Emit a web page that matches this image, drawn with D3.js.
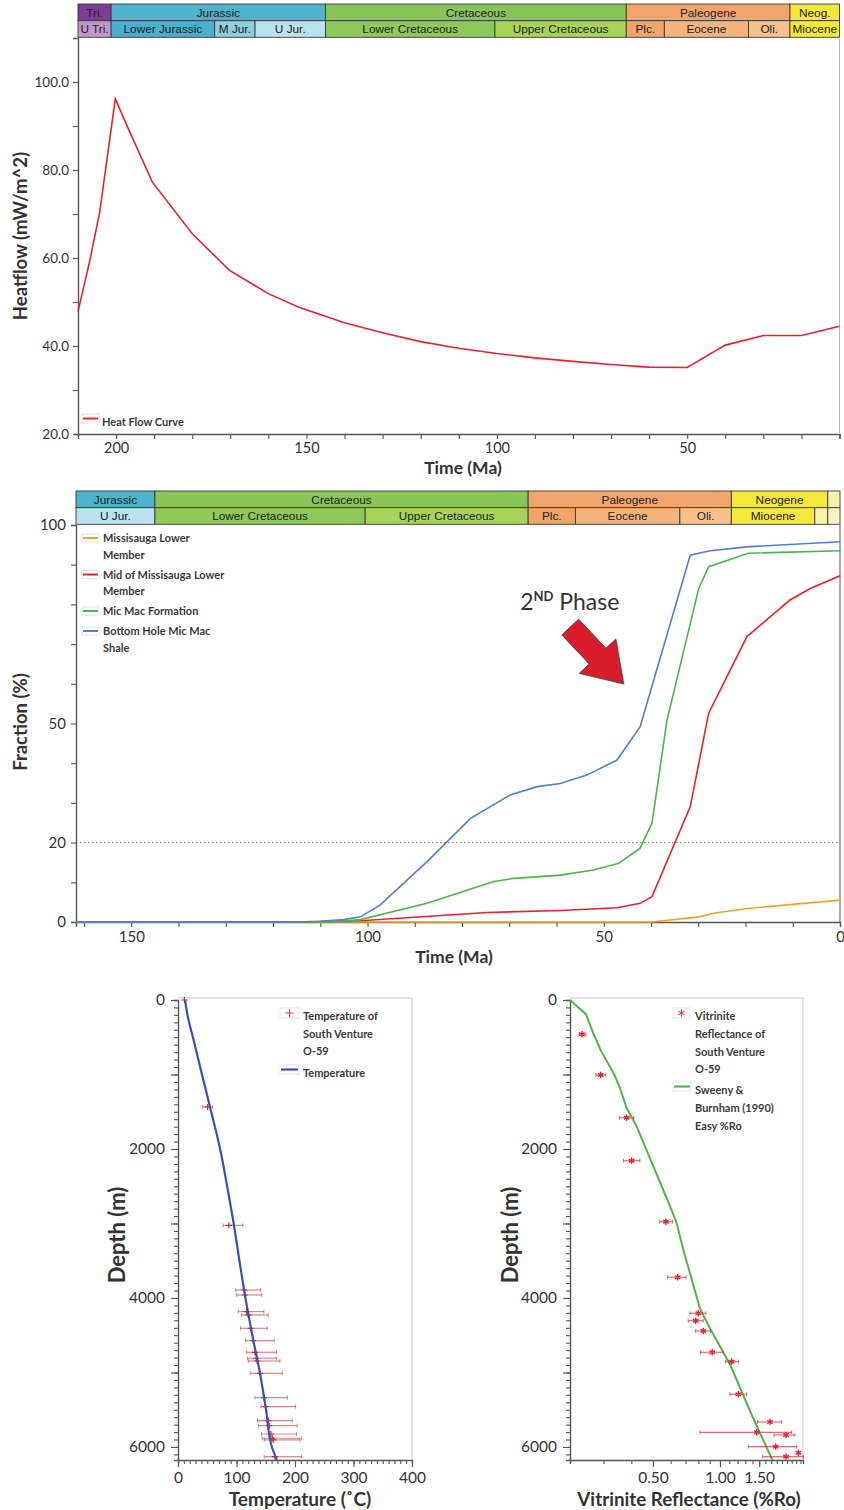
<!DOCTYPE html>
<html>
<head>
<meta charset="utf-8">
<script src="https://cdn.jsdelivr.net/npm/d3@7"></script>
<style>
  body { margin: 0; background: #fff; }
  svg { display: block; font-family: Lato, "Open Sans", sans-serif; }
  .tick text { fill: #333; }
  .bar-label { font-family: "Liberation Sans", Arial, sans-serif; font-size: 11.8px; fill: #222; }
  .legend { font-size: 11px; font-weight: 700; fill: #3a3a3a; }
  .title { font-weight: 700; fill: #333; }
</style>
</head>
<body>
<svg id="chart" width="844" height="1510"></svg>
<script>
// ---------------- Geologic time scale ----------------
const topRow1Names  = ["Tri.", "Jurassic", "Cretaceous", "Paleogene", "Neog."];
const topRow1Bounds = [237, 201.3, 145, 66, 23, 2.58];
const topRow2Names  = ["U Tri.", "Lower Jurassic", "M Jur.", "U Jur.", "Lower Cretaceous", "Upper Cretaceous", "Plc.", "Eocene", "Oli.", "Miocene"];
const topRow2Bounds = [237, 201.3, 174.1, 163.5, 145, 100.5, 66, 56, 33.9, 23, 5.33];

const midRow1Names  = ["Jurassic", "Cretaceous", "Paleogene", "Neogene", ""];
const midRow1Bounds = [201.3, 145, 66, 23, 2.58, 0];
const midRow2Names  = ["U Jur.", "Lower Cretaceous", "Upper Cretaceous", "Plc.", "Eocene", "Oli.", "Miocene", "", ""];
const midRow2Bounds = [163.5, 145, 100.5, 66, 56, 33.9, 23, 5.33, 2.58, 0];

// ---------------- Heat flow history ----------------
const heatAge  = [210, 207, 204.3, 200.2, 197, 190.5, 180, 170.2, 160, 152, 140, 130, 120, 110, 100, 90, 80, 70, 60, 50, 40, 30, 20, 10];
const heatFlow = [47.8, 59, 70.4, 96.2, 89.8, 77.3, 65.5, 57.2, 51.9, 48.8, 45.3, 43.0, 41.0, 39.5, 38.3, 37.3, 36.5, 35.8, 35.2, 35.1, 40.2, 42.4, 42.4, 44.5];

// ---------------- Transformation ratio (%) ----------------
const seriesNames = ["Missisauga Lower Member", "Mid of Missisauga Lower Member", "Mic Mac Formation", "Bottom Hole Mic Mac Shale"];
const orangeAge = [161.7, 39.8, 29.9, 26.7, 19.7, 0];
const orangeVal = [0, 0, 1.3, 2.2, 3.4, 5.5];
const redAge    = [161.7, 115, 101.5, 74.7, 59.2, 47.2, 42.3, 39.8, 31.7, 27.8, 19.7, 10.6, 6.3, 0];
const redVal    = [0, 0, 0.3, 2.4, 2.9, 3.6, 4.7, 6.4, 29, 52.6, 71.9, 81.1, 84, 87.2];
const greenAge  = [161.7, 108, 101.5, 87.4, 73.3, 69, 59.2, 52.2, 46.8, 42.3, 39.8, 36.6, 29.9, 27.8, 19.4, 0];
const greenVal  = [0, 0, 0.6, 4.7, 10.2, 11, 11.8, 13.1, 14.8, 18.6, 24.9, 50.9, 84, 89.5, 92.9, 93.5];
const blueAge   = [161.7, 115, 110, 105, 101.5, 97.3, 87.4, 78.2, 69.8, 64.1, 59.2, 53.6, 47.2, 42.3, 31.7, 27.5, 19.7, 0];
const blueVal   = [0, 0, 0.2, 0.6, 1.3, 4.3, 15.2, 26.1, 32, 34.1, 34.9, 37, 40.8, 49.2, 92.4, 93.5, 94.5, 95.8];
const thresholdLevel = 20;

// ---------------- Well South Venture O-59: temperature ----------------
const tempModelDepth = [0, 250, 500, 1000, 1540, 2000, 2500, 2990, 3500, 3985, 4500, 4980, 5500, 6000, 6175];
const tempModel      = [12, 17.5, 25.5, 41, 58, 72, 84, 95, 105, 115, 127, 139.5, 150.5, 160.5, 169];
const tempObsDepth = [0, 1436, 3025, 3893, 3960, 4183, 4228, 4407, 4573, 4729, 4809, 4846, 5012, 5338, 5459, 5647, 5714, 5826, 5883, 5906, 6130];
const tempObs      = [11, 50.7, 87, 113.3, 114.4, 117.3, 120.1, 124.1, 128.7, 131.5, 133.8, 135.5, 140, 147.4, 149.7, 154.3, 156, 158.8, 161.1, 162.8, 165.7];
const tempObsLo    = [11, 42.2, 76.9, 98.5, 100.2, 103.1, 108.7, 107, 115.6, 117.3, 119, 120.1, 123.5, 131.5, 141.8, 136, 137.2, 142.9, 144, 147.4, 147.4];
const tempObsHi    = [11, 59.3, 111, 141.2, 142.9, 146.9, 154.3, 152.6, 164.5, 168.5, 168.5, 174.2, 178.2, 187.3, 201, 195.3, 203.8, 202.7, 211.2, 208.4, 211.2];

// ---------------- Well South Venture O-59: vitrinite reflectance ----------------
const roModelDepth = [0, 190, 450, 680, 1000, 1180, 1450, 1680, 2220, 2760, 2990, 3350, 4140, 4410, 4890, 5615, 6175];
const roModel      = [0.212, 0.25, 0.27, 0.292, 0.335, 0.355, 0.381, 0.42, 0.5, 0.595, 0.638, 0.684, 0.813, 0.902, 1.109, 1.41, 1.72];
const roObsDepth = [460, 1007, 1580, 2157, 2976, 3722, 4205, 4305, 4443, 4729, 4855, 5292, 5664, 5803, 5839, 5996, 6077, 6130];
const roObs      = [0.24, 0.291, 0.381, 0.401, 0.572, 0.645, 0.799, 0.778, 0.841, 0.923, 1.129, 1.209, 1.678, 1.462, 1.98, 1.78, 2.25, 1.98];
const roObsLo    = [0.233, 0.277, 0.353, 0.368, 0.537, 0.582, 0.733, 0.72, 0.778, 0.819, 1.061, 1.109, 1.477, 0.813, 1.749, 1.34, 2.25, 1.556];
const roObsHi    = [0.25, 0.307, 0.41, 0.437, 0.613, 0.704, 0.865, 0.841, 0.908, 1.035, 1.209, 1.318, 1.893, 2.1, 2.17, 2.21, 2.25, 2.37];

// ---------------- Styles ----------------
const topRow1Colors = ["#7e3c97", "#4db3ca", "#89c457", "#f1a46c", "#f5e83a"];
const topRow2Colors = ["#c096ca", "#4aafcf", "#8ccfdb", "#b9e2ec", "#8cc85a", "#a7d35a", "#f1a46a", "#f5b47e", "#f6c18c", "#f5e838"];
const midRow1Colors = ["#4db3ca", "#89c457", "#f1a46c", "#f5e83a", "#f7f1b0"];
const midRow2Colors = ["#b9e2ec", "#8cc85a", "#a7d35a", "#f1a46a", "#f5b47e", "#f6c18c", "#f5e838", "#f7f2a6", "#f8f3c2"];
const seriesColors = ["#f6a128", "#e8222d", "#4cb648", "#4b80d2"];
const axisColor = "#555";

const svg = d3.select("#chart");
svg.append("rect").attr("width", 844).attr("height", 1510).attr("fill", "#fff");

function styleAxis(sel, fontSize) {
  sel.select(".domain").attr("stroke", axisColor).attr("stroke-width", 1.4);
  sel.selectAll(".tick line").attr("stroke", axisColor).attr("stroke-width", 1.1);
  sel.selectAll(".tick text").attr("font-size", fontSize).attr("font-family", "Lato, sans-serif");
}

function timeBar(x, names, bounds, colors, yTop, h, xmin, xmax) {
  const g = svg.append("g");
  names.forEach((n, i) => {
    let a = x(bounds[i]), b = x(bounds[i + 1]);
    a = Math.max(a, xmin); b = Math.min(b, xmax);
    if (b <= a) return;
    g.append("rect").attr("x", a).attr("y", yTop).attr("width", b - a).attr("height", h)
      .attr("fill", colors[i]).attr("stroke", "#3a3a3a").attr("stroke-width", 0.9);
    if (n) g.append("text").attr("class", "bar-label").attr("x", (a + b) / 2).attr("y", yTop + h / 2 + 4.2)
      .attr("text-anchor", "middle").text(n);
  });
}

// ======================= Panel 1: heat flow =======================
{
  const x = d3.scaleLinear().domain([210, 10]).range([78, 839.5]);
  const y = d3.scaleLinear().domain([20, 110]).range([434, 38]);

  timeBar(x, topRow1Names, topRow1Bounds, topRow1Colors, 4, 16.7, 78, 839.5);
  timeBar(x, topRow2Names, topRow2Bounds, topRow2Colors, 20.7, 16.6, 78, 839.5);

  const gx = svg.append("g").attr("transform", "translate(0,434)")
    .call(d3.axisBottom(x).tickValues(d3.range(210, 9, -10)).tickSize(5).tickPadding(4)
      .tickFormat(d => d % 50 === 0 ? d : ""));
  styleAxis(gx, 14.5);
  const gy = svg.append("g").attr("transform", "translate(78,0)")
    .call(d3.axisLeft(y).tickValues(d3.range(20, 111, 10)).tickSize(5).tickPadding(4)
      .tickFormat(d => d % 20 === 0 ? d3.format(".1f")(d) : ""));
  styleAxis(gy, 13.5);
  svg.append("line").attr("x1", 839.5).attr("x2", 839.5).attr("y1", 38).attr("y2", 434)
    .attr("stroke", "#bbb").attr("stroke-width", 1);

  svg.append("path").datum(heatAge.map((a, i) => [a, heatFlow[i]]))
    .attr("fill", "none").attr("stroke", "#e8222d").attr("stroke-width", 1.6)
    .attr("d", d3.line().x(d => x(d[0])).y(d => y(d[1])));

  svg.append("text").attr("class", "title").attr("font-size", 18.5)
    .attr("transform", "translate(27,236) rotate(-90)").attr("text-anchor", "middle").text("Heatflow (mW/m^2)");
  svg.append("text").attr("class", "title").attr("font-size", 17.5)
    .attr("x", 463).attr("y", 474).attr("text-anchor", "middle").text("Time (Ma)");

  // legend
  const lg = svg.append("g").attr("transform", "translate(82,414)");
  lg.append("rect").attr("width", 17).attr("height", 9).attr("fill", "#fff").attr("stroke", "#e4e4e4");
  lg.append("line").attr("x1", 1).attr("x2", 16).attr("y1", 4.5).attr("y2", 4.5).attr("stroke", "#e8222d").attr("stroke-width", 2);
  lg.append("text").attr("class", "legend").attr("font-size", 10.5).attr("x", 20).attr("y", 12).text("Heat Flow Curve");
}

// ======================= Panel 2: transformation ratio =======================
{
  const x = d3.scaleLinear().domain([161.7, 0]).range([76, 840]);
  const y = d3.scaleLinear().domain([0, 100]).range([922, 525]);

  timeBar(x, midRow1Names, midRow1Bounds, midRow1Colors, 491, 16.7, 76, 840);
  timeBar(x, midRow2Names, midRow2Bounds, midRow2Colors, 507.7, 16.6, 76, 840);

  // threshold line
  svg.append("line").attr("x1", x(161.7)).attr("x2", x(0)).attr("y1", y(thresholdLevel)).attr("y2", y(thresholdLevel))
    .attr("stroke", "#8a8a8a").attr("stroke-width", 1.3).attr("stroke-dasharray", "1.5,2.5");

  const gx = svg.append("g").attr("transform", "translate(0,922)")
    .call(d3.axisBottom(x).tickValues(d3.range(160, -1, -10)).tickSize(5).tickPadding(4)
      .tickFormat(d => d % 50 === 0 ? d : ""));
  styleAxis(gx, 15);
  const gy = svg.append("g").attr("transform", "translate(76,0)")
    .call(d3.axisLeft(y).tickValues(d3.range(0, 101, 10)).tickSize(5).tickPadding(5)
      .tickFormat(d => [0, 20, 50, 100].includes(d) ? d : ""));
  styleAxis(gy, 15);
  svg.append("line").attr("x1", 840).attr("x2", 840).attr("y1", 525).attr("y2", 922)
    .attr("stroke", axisColor).attr("stroke-width", 1);

  const line = d3.line().x(d => x(d[0])).y(d => y(d[1]));
  const series = [[orangeAge, orangeVal], [redAge, redVal], [greenAge, greenVal], [blueAge, blueVal]];
  series.forEach(([ages, vals], i) => {
    svg.append("path").datum(ages.map((a, j) => [a, vals[j]]))
      .attr("fill", "none").attr("stroke", seriesColors[i]).attr("stroke-width", 1.6).attr("d", line);
  });

  svg.append("text").attr("class", "title").attr("font-size", 18.5)
    .attr("transform", "translate(27,722) rotate(-90)").attr("text-anchor", "middle").text("Fraction (%)");
  svg.append("text").attr("class", "title").attr("font-size", 17.5)
    .attr("x", 454).attr("y", 963).attr("text-anchor", "middle").text("Time (Ma)");

  // legend
  const legendLines = [["Missisauga Lower", "Member"], ["Mid of Missisauga Lower", "Member"], ["Mic Mac Formation"], ["Bottom Hole Mic Mac", "Shale"]];
  const legendY = [538, 574.5, 611, 631];
  legendLines.forEach((ls, i) => {
    const g = svg.append("g").attr("transform", `translate(82,${legendY[i] - 4})`);
    g.append("rect").attr("width", 17).attr("height", 8).attr("fill", "#fff").attr("stroke", "#e6e6e6");
    g.append("line").attr("x1", 1).attr("x2", 16).attr("y1", 4).attr("y2", 4).attr("stroke", seriesColors[i]).attr("stroke-width", 2);
    ls.forEach((t, k) => g.append("text").attr("class", "legend").attr("x", 21).attr("y", 8 + k * 16.5).text(t));
  });

  // annotation: second phase of generation
  const tip = [x(45.8), y(60)], tail = [x(57.1), y(74.3)];
  const dx = tip[0] - tail[0], dy = tip[1] - tail[1], L = Math.hypot(dx, dy);
  const ux = dx / L, uy = dy / L, px = -uy, py = ux;
  const shaftW = 11.5, headW = 25, headL = 38;
  const bx = tip[0] - ux * headL, by = tip[1] - uy * headL;
  const pts = [
    [tail[0] + px * shaftW, tail[1] + py * shaftW],
    [bx + px * shaftW, by + py * shaftW],
    [bx + px * headW, by + py * headW],
    tip,
    [bx - px * headW, by - py * headW],
    [bx - px * shaftW, by - py * shaftW],
    [tail[0] - px * shaftW, tail[1] - py * shaftW]
  ];
  svg.append("polygon").attr("points", pts.map(p => [p[0] + 1.5, p[1] + 1.5].join(",")).join(" "))
    .attr("fill", "#9a9a9a").attr("opacity", 0.45);
  svg.append("polygon").attr("points", pts.map(p => p.join(",")).join(" "))
    .attr("fill", "#d81c2b").attr("stroke", "#5a4a4a").attr("stroke-width", 1);

  const t = svg.append("text").attr("x", x(67.7)).attr("y", y(78.6)).attr("font-size", 23).attr("fill", "#333")
    .attr("font-family", "Lato, sans-serif");
  t.append("tspan").text("2");
  t.append("tspan").attr("font-size", 13).attr("font-weight", 700).attr("dy", -9).text("ND");
  t.append("tspan").attr("dy", 9).text(" Phase");
}

// ======================= Depth panels (shared frame and axes) =======================
function depthPanel(x, xTickVals, xMinor, xFmt, yTop, yBottom) {
  const y = d3.scaleLinear().domain([0, 6175]).range([yTop, yBottom]);
  const [x0, x1] = x.range();
  svg.append("line").attr("x1", x0).attr("x2", x1).attr("y1", yTop - 2).attr("y2", yTop - 2).attr("stroke", "#c8c8c8");
  svg.append("line").attr("x1", x1).attr("x2", x1).attr("y1", yTop - 2).attr("y2", yBottom).attr("stroke", "#c8c8c8");

  const gyMinor = svg.append("g").attr("transform", `translate(${x0},0)`)
    .call(d3.axisLeft(y).tickValues(d3.range(0, 6175, 100)).tickSize(4).tickFormat(""));
  styleAxis(gyMinor, 14);
  const gy = svg.append("g").attr("transform", `translate(${x0},0)`)
    .call(d3.axisLeft(y).tickValues([0, 1000, 2000, 3000, 4000, 5000, 6000]).tickSize(7).tickPadding(6)
      .tickFormat(d => d % 2000 === 0 ? d : ""));
  styleAxis(gy, 15.5);
  gy.select(".domain").remove();

  const gxMinor = svg.append("g").attr("transform", `translate(0,${yBottom})`)
    .call(d3.axisBottom(x).tickValues(xMinor).tickSize(4).tickFormat(""));
  styleAxis(gxMinor, 14);
  const gx = svg.append("g").attr("transform", `translate(0,${yBottom})`)
    .call(d3.axisBottom(x).tickValues(xTickVals).tickSize(7).tickPadding(5).tickFormat(xFmt));
  styleAxis(gx, 15.5);
  gx.select(".domain").remove();
  return y;
}

// ======================= Panel 3: temperature vs depth =======================
{
  const x = d3.scaleLinear().domain([0, 400]).range([178, 412]);
  const y = depthPanel(x, [0, 100, 200, 300, 400], d3.range(0, 401, 10), d3.format("d"), 1000, 1460);

  const g = svg.append("g");
  tempObsDepth.forEach((dep, i) => {
    const yy = y(dep), a = x(tempObsLo[i]), b = x(tempObsHi[i]);
    if (b - a > 1) {
      g.append("line").attr("x1", a).attr("x2", b).attr("y1", yy).attr("y2", yy)
        .attr("stroke", "#c0392f").attr("stroke-opacity", 0.6).attr("stroke-width", 1.2);
      [a, b].forEach(xx => g.append("line").attr("x1", xx).attr("x2", xx).attr("y1", yy - 2).attr("y2", yy + 2)
        .attr("stroke", "#c0392f").attr("stroke-opacity", 0.6));
    }
    g.append("path").attr("transform", `translate(${x(tempObs[i])},${yy})`)
      .attr("d", "M-3,0H3M0,-3V3").attr("stroke", "#d9252f").attr("stroke-width", 1.2);
  });

  svg.append("path").datum(tempModelDepth.map((d, i) => [tempModel[i], d]))
    .attr("fill", "none").attr("stroke", "#3a4fb5").attr("stroke-width", 2.2)
    .attr("d", d3.line().curve(d3.curveMonotoneY).x(d => x(d[0])).y(d => y(d[1])));

  svg.append("text").attr("class", "title").attr("font-size", 22)
    .attr("transform", "translate(125,1235) rotate(-90)").attr("text-anchor", "middle").text("Depth (m)");
  svg.append("text").attr("class", "title").attr("font-size", 19)
    .attr("x", 300).attr("y", 1506).attr("text-anchor", "middle").text("Temperature (˚C)");

  const lg = svg.append("g").attr("transform", "translate(280,1008)");
  lg.append("rect").attr("width", 19).attr("height", 10).attr("fill", "#fff").attr("stroke", "#e6e6e6");
  lg.append("path").attr("d", "M5.5,5H13.5M9.5,1V9").attr("stroke", "#e33").attr("stroke-width", 1);
  ["Temperature of", "South Venture", "O-59"].forEach((t, k) =>
    lg.append("text").attr("class", "legend").attr("x", 23).attr("y", 12 + k * 17.6).text(t));
  lg.append("rect").attr("y", 57).attr("width", 19).attr("height", 9).attr("fill", "#fff").attr("stroke", "#e6e6e6");
  lg.append("line").attr("x1", 1).attr("x2", 18).attr("y1", 61.5).attr("y2", 61.5).attr("stroke", "#3a4fb5").attr("stroke-width", 2.2);
  lg.append("text").attr("class", "legend").attr("x", 23).attr("y", 69).text("Temperature");
}

// ======================= Panel 4: vitrinite reflectance vs depth =======================
{
  const x = d3.scaleLog().domain([0.212, 2.36]).range([570, 803]);
  const minor = d3.range(3, 24).map(v => v / 10);
  const y = depthPanel(x, [0.5, 1.0, 1.5], minor, d3.format(".2f"), 1000, 1460);

  svg.append("path").datum(roModelDepth.map((d, i) => [roModel[i], d]))
    .attr("fill", "none").attr("stroke", "#4cb648").attr("stroke-width", 2)
    .attr("d", d3.line().x(d => x(d[0])).y(d => y(d[1])));

  const star = d3.symbol().type(d3.symbolAsterisk).size(28);
  const g = svg.append("g");
  roObsDepth.forEach((dep, i) => {
    const yy = y(dep), a = x(roObsLo[i]), b = x(roObsHi[i]);
    if (b - a > 1) {
      g.append("line").attr("x1", a).attr("x2", b).attr("y1", yy).attr("y2", yy)
        .attr("stroke", "#d0303a").attr("stroke-opacity", 0.7).attr("stroke-width", 1.2);
      [a, b].forEach(xx => g.append("line").attr("x1", xx).attr("x2", xx).attr("y1", yy - 2).attr("y2", yy + 2)
        .attr("stroke", "#d0303a").attr("stroke-opacity", 0.7));
    }
    g.append("path").attr("transform", `translate(${x(roObs[i])},${yy})`).attr("d", star())
      .attr("fill", "none").attr("stroke", "#e3222d").attr("stroke-width", 1.4);
  });

  svg.append("text").attr("class", "title").attr("font-size", 22)
    .attr("transform", "translate(518,1235) rotate(-90)").attr("text-anchor", "middle").text("Depth (m)");
  svg.append("text").attr("class", "title").attr("font-size", 18.8)
    .attr("x", 689).attr("y", 1506).attr("text-anchor", "middle").text("Vitrinite Reflectance (%Ro)");

  const lg = svg.append("g").attr("transform", "translate(673,1008)");
  lg.append("rect").attr("width", 17).attr("height", 10).attr("fill", "#fff").attr("stroke", "#e6e6e6");
  lg.append("path").attr("transform", "translate(8.5,5)").attr("d", d3.symbol().type(d3.symbolAsterisk).size(40)())
    .attr("fill", "none").attr("stroke", "#e33").attr("stroke-width", 1);
  ["Vitrinite", "Reflectance of", "South Venture", "O-59"].forEach((t, k) =>
    lg.append("text").attr("class", "legend").attr("x", 22).attr("y", 12 + k * 17.8).text(t));
  lg.append("rect").attr("y", 74).attr("width", 18).attr("height", 9).attr("fill", "#fff").attr("stroke", "#e6e6e6");
  lg.append("line").attr("x1", 1).attr("x2", 17).attr("y1", 78.5).attr("y2", 78.5).attr("stroke", "#4cb648").attr("stroke-width", 2.2);
  ["Sweeny &", "Burnham (1990)", "Easy %Ro"].forEach((t, k) =>
    lg.append("text").attr("class", "legend").attr("x", 22).attr("y", 86 + k * 18).text(t));
}
</script>
</body>
</html>
